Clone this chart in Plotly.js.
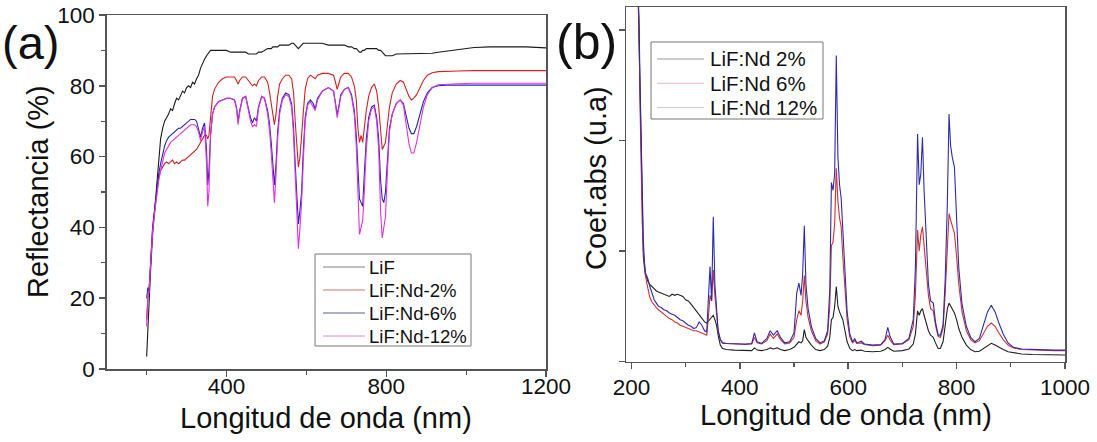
<!DOCTYPE html>
<html><head><meta charset="utf-8">
<script src="https://cdn.plot.ly/plotly-3.0.1.min.js"></script>
<style>html,body{margin:0;padding:0;background:#fff;}#chart{width:1097px;height:442px;}</style>
</head><body><div id="chart"></div>
<script>
// ---------- Panel (a): Reflectancia ----------
const wavelengthA = [200,203,206,210,215,220,225,230,235,240,
 245,250,255,260,265,270,275,280,285,290,
 295,300,305,310,315,320,325,330,335,340,
 345,350,353,356,360,365,370,380,390,400,
 410,420,425,429,433,440,448,455,460,465,
 470,475,480,488,495,503,508,512,516,520,
 524,528,533,540,548,556,563,568,572,576,
 580,584,588,592,597,603,610,617,622,628,
 640,655,668,673,677,681,686,695,705,713,
 720,725,729,733,737,741,745,750,756,763,
 770,776,781,786,790,794,798,803,808,815,
 825,835,843,850,857,863,869,876,884,893,
 903,915,930,950,980,1020,1060,1100,1150,1200];
const reflLiF = [3.5,12,18,28,38,45,52,60,65,68,
 70,71,72,73.5,73,75,76.5,76,77.5,78.5,
 78,79.5,80,79.5,81,80.5,82,83,85,86.5,
 87.5,88.5,89,89.5,90,90,90,90,90,90,
 89.5,89.5,89.5,89.5,89.5,89.5,89.5,89,89,89,
 89,89,89.5,89.5,90,90.5,90.5,90.5,91,91,
 91,91,91.5,91.5,91.5,91.5,92,92,91.5,91,
 90.5,91,91.5,92,92,92,92,92,92,92,
 92,91.5,91.5,91.5,91.5,91.5,91.5,91.5,91,91,
 90.5,90.5,90,89.5,89.5,90,90,90.5,90.5,90.5,
 90.5,90.5,90,90,89.5,89,88.5,88.5,88.5,88.5,
 89,89,89,89,89,89,89,89,89,89,
 89,89.2,89.5,89.8,90.2,90.8,91,91,91,90.7];
const reflNd2 = [14,20,22,30,40,45,50,54,56,57,
 58,58.5,58,58.5,59,58,58.5,58,58.5,59,
 59,59.5,60,60.5,61,61.5,62,63,64,65,
 66,66,65,66,72,77,79,81,82,82.5,
 82.5,82.5,81.5,80.5,81.5,82.5,82.5,81.5,80.5,80,
 80.5,80,81.5,82.5,82.5,81,78,75,72,69,
 72,77,80.5,82,83,83,82,78,70,62,
 57,60,65,72,79,82,83,82.5,82,83,
 83.5,83.5,83,81,79,80.5,82.5,83.5,83.5,82.5,
 80,76,68,64,66,64,68,73,77,79.5,
 80.5,78.5,74,67,62,63,64,69,74,78,
 80.5,81.5,81,79,77,76,76.5,77.5,79.5,81.5,
 83,83.7,84,84,84.2,84.3,84.3,84.3,84.3,84.3];
const reflNd6 = [20,23,22,30,40,45,50,55,58,61,
 63,64.5,65.5,66,66.5,67,67.5,68,68,68.5,
 69,69.5,70,70.5,70.5,70.5,70,68,65.5,68,
 69.5,62,52,56,66,72,74,75.5,76,76.5,
 76.5,76,74,70,73,76.5,77,73,71,69.5,
 71,70,74,77,76.5,73,69,64,57,52,
 58,67,73,76.5,78,77.5,75,68,58,47,
 41,45,50,61,71,75,76,75,73.5,76.5,
 78.5,79.5,78.5,75,72,74,77.5,79,79.5,77.5,
 73,66,55,48,47,46,55,65,71,74,
 74.5,71,65,53,48,47,50,60,68,72,
 75,76,75,71.5,68,66.5,66.5,68.5,72,75.5,
 78,79.5,80,80.2,80.2,80.2,80.2,80.2,80.2,80.2];
const reflNd12 = [12,20,22,29,39,44,49,53,56,59,
 61,62,63,64,64.5,65,65.5,66,66.5,67,
 67.5,68,68.5,69,69,69,68.5,67,64.5,67,
 68.5,58,46,50,66,72,74,75.5,76,76.5,
 76.5,76,73.5,69,72.5,76.5,77,72.5,70,68.5,
 69,68.5,73.5,77,76.5,72,67,61,54,47,
 55,65,72,76,77.5,77,74,66,55,43,
 34,40,47,58,70,74.5,75.5,74,73,76,
 78.5,79.5,78.5,74.5,71,73.5,77,79,79.5,77,
 72,63,47,38,40,42,50,62,70,73.5,
 74,70,62,44,37,40,43,56,67,72,
 75,76,74.5,69,63.5,61,61,64,69,74,
 77.5,79.5,80.3,80.5,80.6,80.7,80.7,80.7,80.7,80.7];
const namesA = ["LiF","LiF:Nd-2%","LiF:Nd-6%","LiF:Nd-12%"];

// ---------- Panel (b): Coef. abs ----------
const wavelengthB = [212,214,216,218,220,222,224,226,228,231,
 234,238,242,246,250,255,260,265,270,275,
 280,285,290,295,300,305,310,315,320,325,
 330,335,339,342,345,348,351,354,357,360,
 364,368,375,390,410,422,427,432,440,450,
 456,462,469,475,483,492,500,505,509,513,
 516,519,522,526,532,540,548,556,562,566,
 569,572,575,578,581,584,587,590,594,598,
 603,608,612,616,624,630,645,660,668,673,
 677,684,700,712,720,724,728,731,734,737,
 740,744,748,752,757,761,766,770,775,779,
 783,786,789,792,796,800,804,810,818,826,
 834,842,850,857,864,871,878,886,895,905,
 920,940,960,980,1000];
const absNd2 = [3.4,2.9,2.2,1.6,1.2,0.95,0.85,0.78,0.76,0.72,
 0.70,0.68,0.66,0.64,0.63,0.62,0.61,0.60,0.59,0.61,
 0.60,0.61,0.60,0.59,0.56,0.55,0.52,0.49,0.46,0.42,
 0.39,0.36,0.35,0.37,0.38,0.40,0.42,0.38,0.33,0.24,
 0.15,0.12,0.11,0.105,0.10,0.10,0.125,0.105,0.10,0.11,
 0.125,0.115,0.125,0.11,0.10,0.11,0.13,0.16,0.18,0.17,
 0.19,0.29,0.22,0.19,0.15,0.11,0.10,0.11,0.14,0.22,
 0.38,0.40,0.50,0.68,0.50,0.45,0.42,0.38,0.28,0.18,
 0.12,0.10,0.11,0.10,0.105,0.095,0.09,0.095,0.11,0.13,
 0.115,0.095,0.10,0.115,0.16,0.25,0.46,0.42,0.46,0.48,
 0.42,0.35,0.28,0.24,0.22,0.17,0.12,0.12,0.18,0.33,
 0.48,0.53,0.50,0.47,0.44,0.38,0.30,0.22,0.15,0.11,
 0.09,0.095,0.12,0.15,0.166,0.15,0.13,0.11,0.09,0.08,
 0.07,0.065,0.065,0.06,0.06];
const absNd6 = [3.4,3.0,2.3,1.7,1.25,1.0,0.85,0.78,0.72,0.64,
 0.58,0.54,0.51,0.49,0.47,0.45,0.43,0.41,0.39,0.38,
 0.36,0.35,0.33,0.32,0.31,0.30,0.29,0.28,0.28,0.27,
 0.26,0.25,0.24,0.40,0.60,0.55,0.83,0.60,0.45,0.28,
 0.20,0.17,0.165,0.16,0.155,0.16,0.22,0.17,0.16,0.19,
 0.25,0.21,0.25,0.20,0.16,0.17,0.22,0.38,0.46,0.42,
 0.55,0.78,0.55,0.40,0.28,0.19,0.16,0.18,0.25,0.50,
 1.05,1.08,1.25,1.75,1.45,1.30,1.22,0.95,0.65,0.38,
 0.22,0.17,0.19,0.165,0.17,0.155,0.145,0.15,0.19,0.24,
 0.20,0.155,0.16,0.20,0.32,0.60,1.19,1.00,1.15,1.22,
 1.05,0.82,0.60,0.48,0.46,0.33,0.23,0.22,0.30,0.62,
 1.00,1.34,1.28,1.22,1.16,0.95,0.70,0.45,0.28,0.20,
 0.17,0.19,0.26,0.32,0.35,0.32,0.26,0.20,0.15,0.125,
 0.11,0.105,0.105,0.10,0.10];
const absNd12 = [3.4,3.1,2.5,1.9,1.4,1.1,0.9,0.8,0.78,0.74,
 0.68,0.62,0.56,0.53,0.50,0.49,0.47,0.46,0.44,0.43,
 0.42,0.40,0.38,0.37,0.35,0.33,0.32,0.30,0.31,0.36,
 0.33,0.28,0.27,0.60,0.86,0.55,1.31,0.70,0.45,0.28,
 0.20,0.17,0.165,0.16,0.16,0.165,0.26,0.18,0.165,0.21,
 0.28,0.24,0.28,0.22,0.17,0.18,0.26,0.62,0.71,0.60,
 0.80,1.23,0.70,0.48,0.32,0.21,0.17,0.19,0.28,0.65,
 1.62,1.55,1.70,2.77,1.85,1.60,1.48,1.20,0.80,0.45,
 0.25,0.18,0.21,0.17,0.185,0.16,0.15,0.155,0.20,0.31,
 0.23,0.16,0.165,0.21,0.38,0.85,2.06,1.60,1.70,2.03,
 1.55,1.05,0.70,0.55,0.53,0.36,0.24,0.24,0.33,0.75,
 1.45,2.24,1.95,1.85,1.76,1.30,0.85,0.52,0.32,0.22,
 0.18,0.21,0.33,0.45,0.51,0.45,0.35,0.25,0.17,0.13,
 0.115,0.11,0.11,0.105,0.105];
const namesB = ["LiF:Nd 2%","LiF:Nd 6%","LiF:Nd 12%"];

// tick labels
const ticksA_x = [400, 800, 1200];
const ticksA_y = [0, 20, 40, 60, 80, 100];
const ticksB_x = [200, 400, 600, 800, 1000];
const titles = {xA: 'Longitud de onda (nm)', yA: 'Reflectancia (%)', xB: 'Longitud de onda (nm)', yB: 'Coef.abs (u.a)'};

// ---------- styling ----------
const W = 1097, H = 442;
const px = v => v / W;
const py = v => 1 - v / H;
const FONT = '"Liberation Sans", Arial, Helvetica, sans-serif';
const AX = '#555';

const colA = ['#1a1a1a', '#d42020', '#2424b8', '#e030e0'];
const legColA = ['#808080', '#c87878', '#5a5a9a', '#d48ad4'];
const colB = ['#202020', '#d03030', '#2b2bb0'];
const legColB = ['#9a9a9a', '#e8b8b8', '#c8c8d0'];

const seriesA = [reflLiF, reflNd2, reflNd6, reflNd12];
const seriesB = [absNd2, absNd6, absNd12];

const traces = [];
seriesA.forEach((ys, i) => traces.push({
  type: 'scatter', mode: 'lines', x: wavelengthA, y: ys, name: namesA[i],
  xaxis: 'x', yaxis: 'y', line: {color: colA[i], width: 1.1}, showlegend: false
}));
seriesB.forEach((ys, i) => traces.push({
  type: 'scatter', mode: 'lines', x: wavelengthB, y: ys, name: namesB[i],
  xaxis: 'x2', yaxis: 'y2', line: {color: colB[i], width: 1.1}, showlegend: false
}));

const shapes = [];
const annotations = [];
// legend (a)
shapes.push({type:'rect', xref:'paper', yref:'paper', x0:px(315), x1:px(471), y0:py(346), y1:py(254),
  line:{color:'#777', width:1}, fillcolor:'rgba(255,255,255,0)'});
namesA.forEach((n, i) => {
  const yc = 267 + i * 23;
  shapes.push({type:'line', xref:'paper', yref:'paper', x0:px(323), x1:px(365), y0:py(yc), y1:py(yc),
    line:{color:legColA[i], width:1}});
  annotations.push({xref:'paper', yref:'paper', x:px(367), y:py(yc), xanchor:'left', yanchor:'middle',
    text:n, showarrow:false, font:{family:FONT, size:18.5, color:'#111'}});
});
// legend (b)
shapes.push({type:'rect', xref:'paper', yref:'paper', x0:px(651), x1:px(823), y0:py(119), y1:py(42),
  line:{color:'#777', width:1}, fillcolor:'rgba(255,255,255,0)'});
namesB.forEach((n, i) => {
  const yc = 59 + i * 24.3;
  shapes.push({type:'line', xref:'paper', yref:'paper', x0:px(657), x1:px(704), y0:py(yc), y1:py(yc),
    line:{color:legColB[i], width:1}});
  annotations.push({xref:'paper', yref:'paper', x:px(708), y:py(yc), xanchor:'left', yanchor:'middle',
    text:n, showarrow:false, font:{family:FONT, size:20.5, color:'#111'}});
});
// panel labels
annotations.push({xref:'paper', yref:'paper', x:px(0), y:py(14), xanchor:'left', yanchor:'top',
  text:'(a)', showarrow:false, font:{family:FONT, size:47, color:'#111'}});
annotations.push({xref:'paper', yref:'paper', x:px(554), y:py(12), xanchor:'left', yanchor:'top',
  text:'(b)', showarrow:false, font:{family:FONT, size:50, color:'#111'}});
// axis titles
const TF = {family: FONT, size: 29, color: '#111'};
annotations.push({xref:'paper', yref:'paper', x:px(326), y:py(418), xanchor:'center', yanchor:'middle',
  text:titles.xA, showarrow:false, font:TF});
annotations.push({xref:'paper', yref:'paper', x:px(38), y:py(192), xanchor:'center', yanchor:'middle',
  text:titles.yA, textangle:-90, showarrow:false, font:TF});
annotations.push({xref:'paper', yref:'paper', x:px(845.5), y:py(415), xanchor:'center', yanchor:'middle',
  text:titles.xB, showarrow:false, font:TF});
annotations.push({xref:'paper', yref:'paper', x:px(596), y:py(178), xanchor:'center', yanchor:'middle',
  text:titles.yB, textangle:-90, showarrow:false, font:TF});

const baseAxis = {
  showline: true, linecolor: AX, linewidth: 1.5, mirror: true,
  ticks: 'outside', ticklen: 6, tickwidth: 1.5, tickcolor: AX,
  showgrid: false, zeroline: false, automargin: false,
  tickfont: {family: FONT, size: 22.5, color: '#111'}
};

const layout = {
  width: W, height: H, margin: {l:0, r:0, t:0, b:0},
  paper_bgcolor: '#fff', plot_bgcolor: '#fff', showlegend: false,
  font: {family: FONT, color: '#111'},
  xaxis: Object.assign({}, baseAxis, {
    domain: [px(106.7), px(546)], anchor: 'y', range: [100, 1200],
    tickmode: 'array', tickvals: ticksA_x, ticktext: ticksA_x.map(String), ticklabelstandoff: -10,
    minor: {tickmode:'linear', tick0: 200, dtick: 400, ticks:'outside', ticklen: 4, tickcolor: AX, tickwidth: 1.2}
  }),
  yaxis: Object.assign({}, baseAxis, {
    domain: [py(369), py(15)], anchor: 'x', range: [0, 100],
    tickmode: 'array', tickvals: ticksA_y, ticktext: ticksA_y.map(String),
    minor: {tickmode:'linear', tick0: 10, dtick: 20, ticks:'outside', ticklen: 4, tickcolor: AX, tickwidth: 1.2}
  }),
  xaxis2: Object.assign({}, baseAxis, {
    domain: [px(626), px(1065)], anchor: 'y2', range: [190, 1000],
    tickmode: 'array', tickvals: ticksB_x, ticktext: ticksB_x.map(String), ticklabelstandoff: -1,
    minor: {tickmode:'linear', tick0: 300, dtick: 200, ticks:'outside', ticklen: 4, tickcolor: AX, tickwidth: 1.2}
  }),
  yaxis2: Object.assign({}, baseAxis, {
    domain: [py(361.7), py(7)], anchor: 'x2', range: [0, 3.208],
    tickmode: 'linear', tick0: 0, dtick: 1, showticklabels: false
  }),
  shapes: shapes,
  annotations: annotations
};

Plotly.newPlot('chart', traces, layout, {displayModeBar: false, staticPlot: true});
</script>
</body></html>
